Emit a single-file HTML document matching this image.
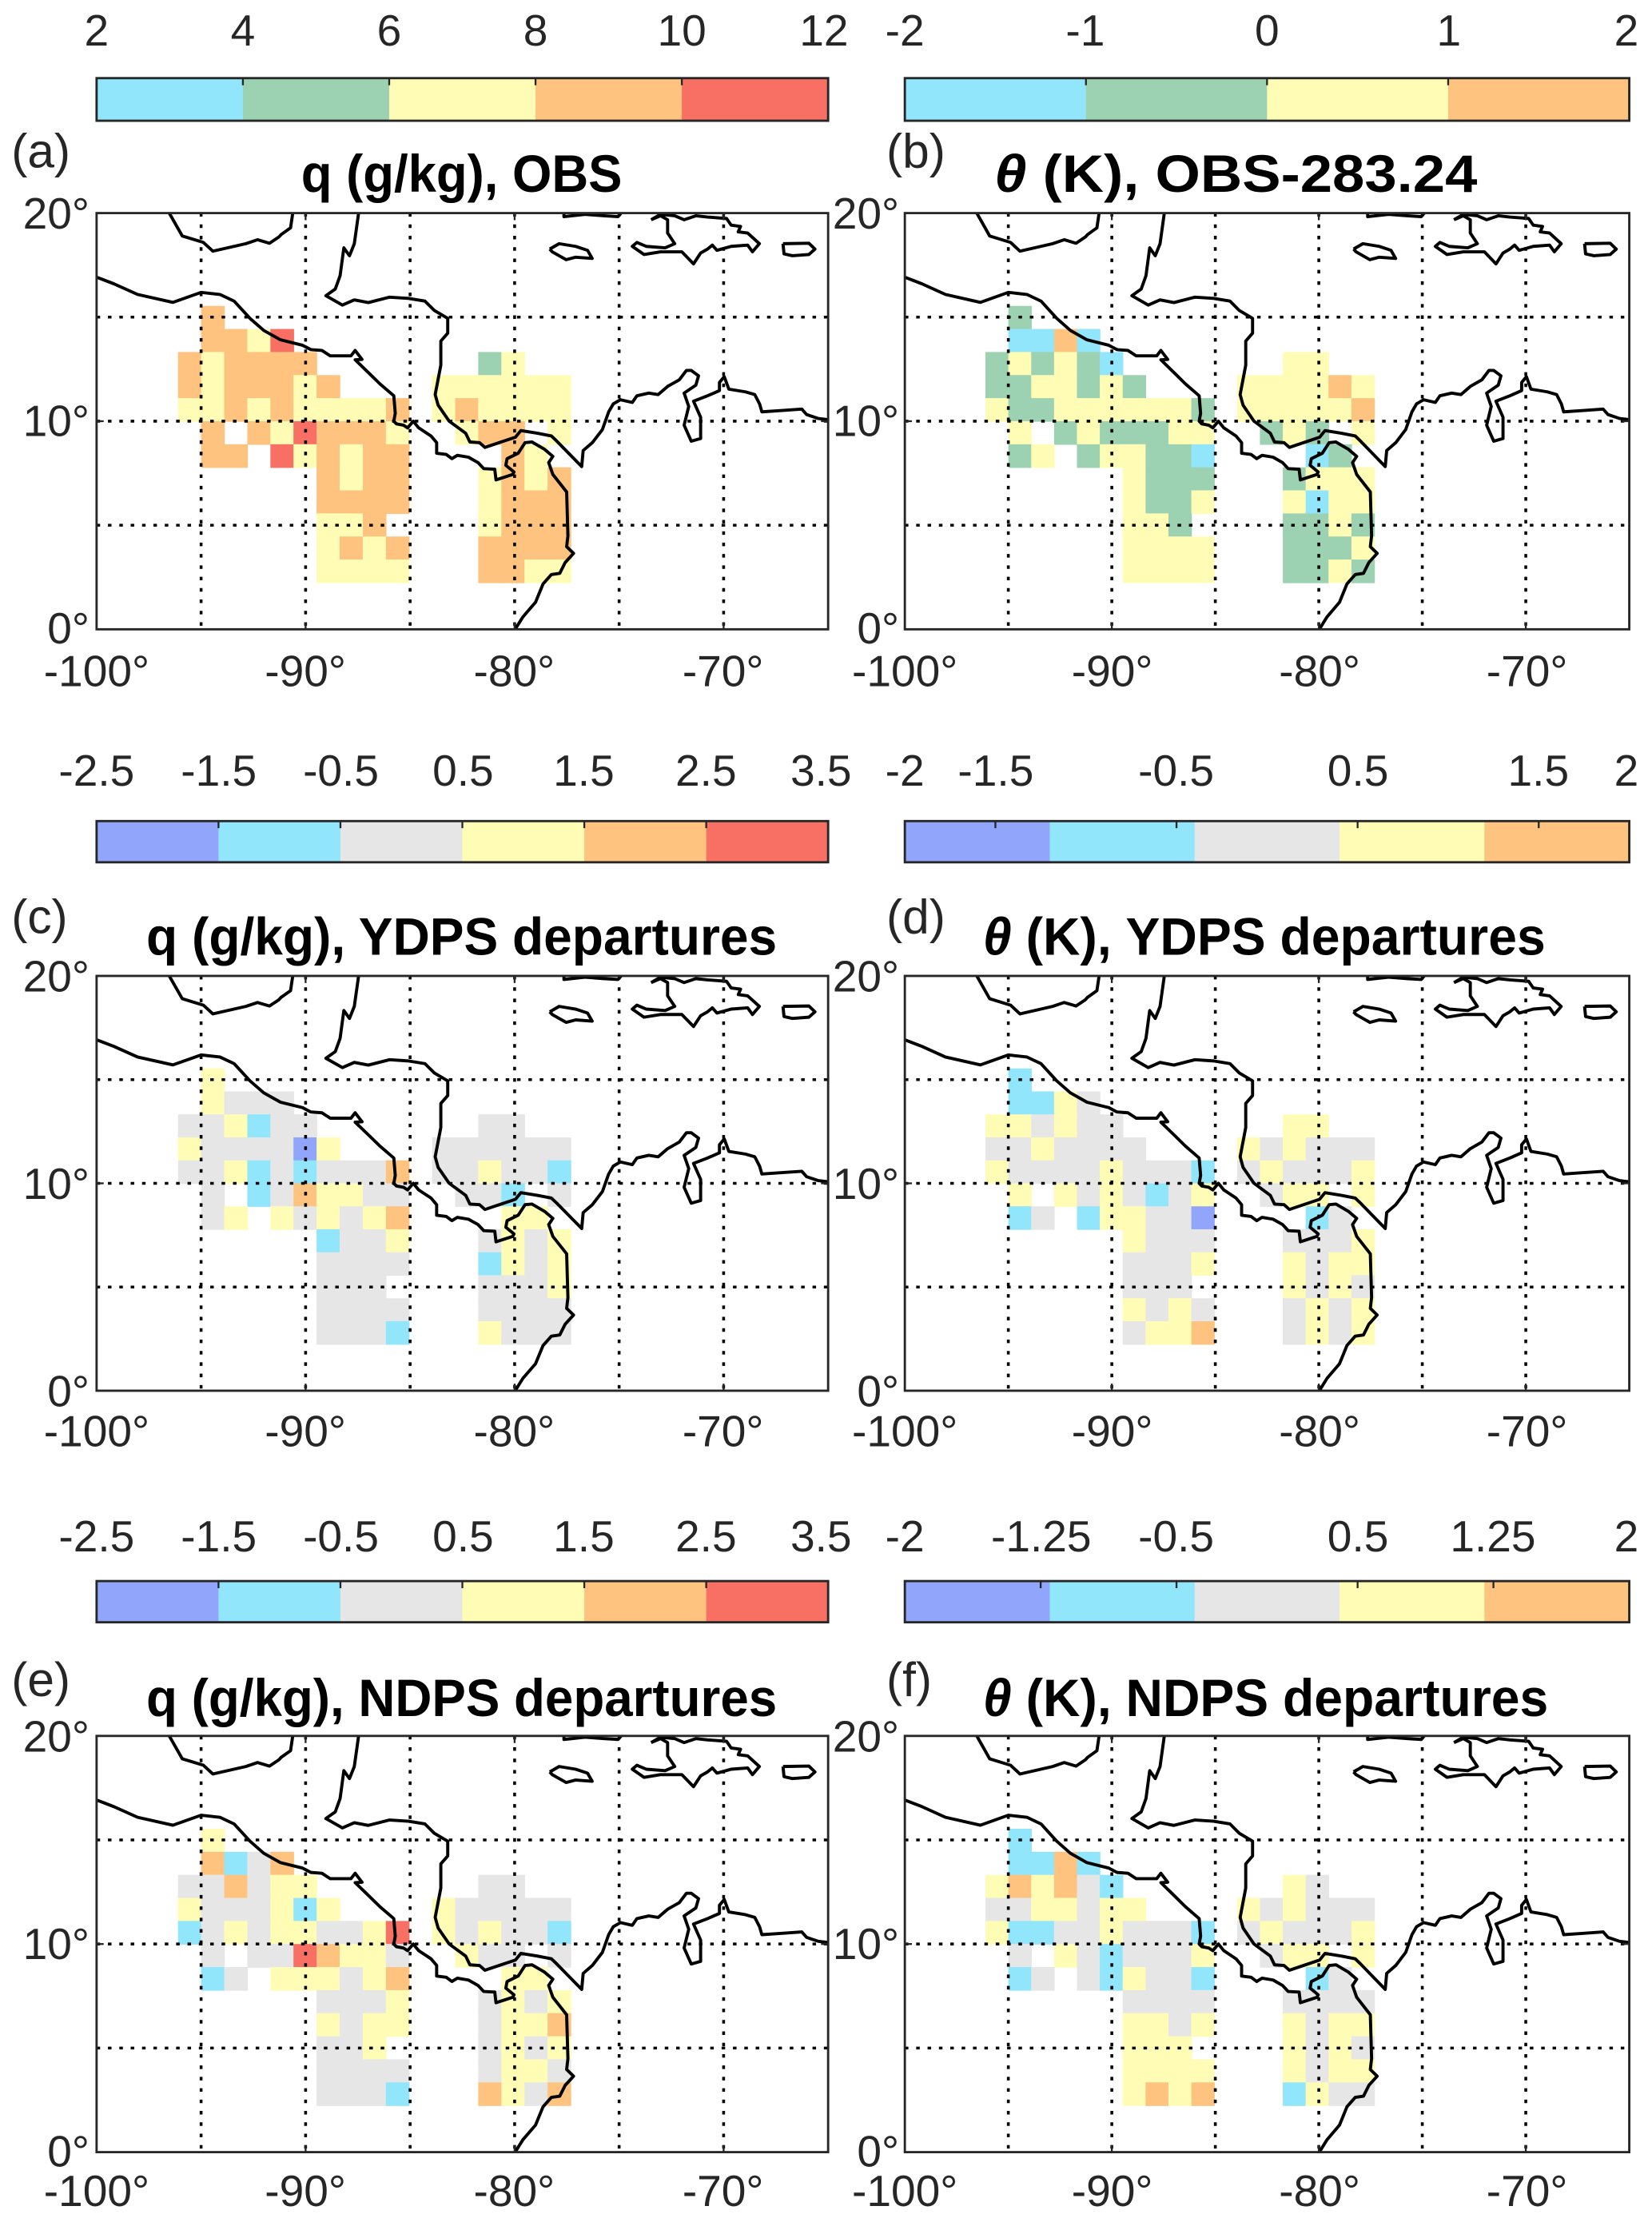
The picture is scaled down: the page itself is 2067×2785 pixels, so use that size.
<!DOCTYPE html>
<html><head><meta charset="utf-8">
<style>
html,body{margin:0;padding:0;background:#fff;}
svg{display:block;}
text{font-family:"Liberation Sans",Arial,sans-serif;fill:#262626;}
.t{font-size:31px;}
.ti{font-size:37px;font-weight:bold;fill:#000;}
.lt{font-size:34px;}
</style></head>
<body>
<svg id="s" width="2067" height="2785" viewBox="0 0 1163 1567" preserveAspectRatio="none" xmlns="http://www.w3.org/2000/svg">
<defs>
<clipPath id="ca"><rect x="68" y="150" width="515" height="293"/></clipPath>
<clipPath id="cb"><rect x="637" y="150" width="510" height="293"/></clipPath>
<clipPath id="cc"><rect x="68" y="687" width="515" height="292"/></clipPath>
<clipPath id="cd"><rect x="637" y="687" width="510" height="292"/></clipPath>
<clipPath id="ce"><rect x="68" y="1222" width="515" height="293"/></clipPath>
<clipPath id="cf"><rect x="637" y="1222" width="510" height="293"/></clipPath>
</defs>
<g id="gfx"></g>

<text class="t" text-anchor="middle" x="68" y="32">2</text>
<text class="t" text-anchor="middle" x="171" y="32">4</text>
<text class="t" text-anchor="middle" x="274" y="32">6</text>
<text class="t" text-anchor="middle" x="377" y="32">8</text>
<text class="t" text-anchor="middle" x="480" y="32">10</text>
<text class="t" text-anchor="middle" x="580" y="32">12</text>
<text class="t" text-anchor="middle" x="637" y="32">-2</text>
<text class="t" text-anchor="middle" x="764" y="32">-1</text>
<text class="t" text-anchor="middle" x="892" y="32">0</text>
<text class="t" text-anchor="middle" x="1020" y="32">1</text>
<text class="t" text-anchor="middle" x="1145" y="32">2</text>
<text class="t" text-anchor="middle" x="68" y="553">-2.5</text>
<text class="t" text-anchor="middle" x="154" y="553">-1.5</text>
<text class="t" text-anchor="middle" x="240" y="553">-0.5</text>
<text class="t" text-anchor="middle" x="326" y="553">0.5</text>
<text class="t" text-anchor="middle" x="411" y="553">1.5</text>
<text class="t" text-anchor="middle" x="497" y="553">2.5</text>
<text class="t" text-anchor="middle" x="578" y="553">3.5</text>
<text class="t" text-anchor="middle" x="637" y="553">-2</text>
<text class="t" text-anchor="middle" x="701" y="553">-1.5</text>
<text class="t" text-anchor="middle" x="828" y="553">-0.5</text>
<text class="t" text-anchor="middle" x="956" y="553">0.5</text>
<text class="t" text-anchor="middle" x="1083" y="553">1.5</text>
<text class="t" text-anchor="middle" x="1145" y="553">2</text>
<text class="t" text-anchor="middle" x="68" y="1092">-2.5</text>
<text class="t" text-anchor="middle" x="154" y="1092">-1.5</text>
<text class="t" text-anchor="middle" x="240" y="1092">-0.5</text>
<text class="t" text-anchor="middle" x="326" y="1092">0.5</text>
<text class="t" text-anchor="middle" x="411" y="1092">1.5</text>
<text class="t" text-anchor="middle" x="497" y="1092">2.5</text>
<text class="t" text-anchor="middle" x="578" y="1092">3.5</text>
<text class="t" text-anchor="middle" x="637" y="1092">-2</text>
<text class="t" text-anchor="middle" x="733" y="1092">-1.25</text>
<text class="t" text-anchor="middle" x="828" y="1092">-0.5</text>
<text class="t" text-anchor="middle" x="956" y="1092">0.5</text>
<text class="t" text-anchor="middle" x="1051" y="1092">1.25</text>
<text class="t" text-anchor="middle" x="1145" y="1092">2</text>

<text class="lt" x="8" y="118">(a)</text>
<text class="ti" x="212" y="135" textLength="226" lengthAdjust="spacingAndGlyphs">q (g/kg), OBS</text>
<text class="lt" x="624" y="118">(b)</text>
<text class="ti" x="700" y="135" textLength="340" lengthAdjust="spacingAndGlyphs"><tspan font-style="italic">θ</tspan> (K), OBS-283.24</text>
<text class="lt" x="8" y="657">(c)</text>
<text class="ti" x="103" y="672" textLength="444" lengthAdjust="spacingAndGlyphs">q (g/kg), YDPS departures</text>
<text class="lt" x="624" y="657">(d)</text>
<text class="ti" x="692" y="672" textLength="396" lengthAdjust="spacingAndGlyphs"><tspan font-style="italic">θ</tspan> (K), YDPS departures</text>
<text class="lt" x="8" y="1194">(e)</text>
<text class="ti" x="103" y="1208" textLength="444" lengthAdjust="spacingAndGlyphs">q (g/kg), NDPS departures</text>
<text class="lt" x="624" y="1194">(f)</text>
<text class="ti" x="692" y="1208" textLength="398" lengthAdjust="spacingAndGlyphs"><tspan font-style="italic">θ</tspan> (K), NDPS departures</text>

<text class="t" text-anchor="end" x="63" y="161">20°</text>
<text class="t" text-anchor="end" x="63" y="307">10°</text>
<text class="t" text-anchor="end" x="63" y="453">0°</text>
<text class="t" text-anchor="middle" x="68" y="483">-100°</text>
<text class="t" text-anchor="middle" x="215" y="483">-90°</text>
<text class="t" text-anchor="middle" x="362" y="483">-80°</text>
<text class="t" text-anchor="middle" x="509" y="483">-70°</text>
<text class="t" text-anchor="end" x="633" y="161">20°</text>
<text class="t" text-anchor="end" x="633" y="307">10°</text>
<text class="t" text-anchor="end" x="633" y="453">0°</text>
<text class="t" text-anchor="middle" x="637" y="483">-100°</text>
<text class="t" text-anchor="middle" x="783" y="483">-90°</text>
<text class="t" text-anchor="middle" x="929" y="483">-80°</text>
<text class="t" text-anchor="middle" x="1075" y="483">-70°</text>
<text class="t" text-anchor="end" x="63" y="698">20°</text>
<text class="t" text-anchor="end" x="63" y="844">10°</text>
<text class="t" text-anchor="end" x="63" y="990">0°</text>
<text class="t" text-anchor="middle" x="68" y="1018">-100°</text>
<text class="t" text-anchor="middle" x="215" y="1018">-90°</text>
<text class="t" text-anchor="middle" x="362" y="1018">-80°</text>
<text class="t" text-anchor="middle" x="509" y="1018">-70°</text>
<text class="t" text-anchor="end" x="633" y="698">20°</text>
<text class="t" text-anchor="end" x="633" y="844">10°</text>
<text class="t" text-anchor="end" x="633" y="990">0°</text>
<text class="t" text-anchor="middle" x="637" y="1018">-100°</text>
<text class="t" text-anchor="middle" x="783" y="1018">-90°</text>
<text class="t" text-anchor="middle" x="929" y="1018">-80°</text>
<text class="t" text-anchor="middle" x="1075" y="1018">-70°</text>
<text class="t" text-anchor="end" x="63" y="1233">20°</text>
<text class="t" text-anchor="end" x="63" y="1379">10°</text>
<text class="t" text-anchor="end" x="63" y="1525">0°</text>
<text class="t" text-anchor="middle" x="68" y="1553">-100°</text>
<text class="t" text-anchor="middle" x="215" y="1553">-90°</text>
<text class="t" text-anchor="middle" x="362" y="1553">-80°</text>
<text class="t" text-anchor="middle" x="509" y="1553">-70°</text>
<text class="t" text-anchor="end" x="633" y="1233">20°</text>
<text class="t" text-anchor="end" x="633" y="1379">10°</text>
<text class="t" text-anchor="end" x="633" y="1525">0°</text>
<text class="t" text-anchor="middle" x="637" y="1553">-100°</text>
<text class="t" text-anchor="middle" x="783" y="1553">-90°</text>
<text class="t" text-anchor="middle" x="929" y="1553">-80°</text>
<text class="t" text-anchor="middle" x="1075" y="1553">-70°</text>
</svg>
<script>
(function(){
var NS="http://www.w3.org/2000/svg";
var G=document.getElementById("gfx");
function el(n,a,p){var e=document.createElementNS(NS,n);for(var k in a)e.setAttribute(k,a[k]);(p||G).appendChild(e);return e;}
var COL={O:"#FEC37F",Y:"#FFFDB5",R:"#F86F64",G:"#9CD2B1",C:"#91E6FC",B:"#91A6FB",g:"#E6E6E6"};
var panels=[
{id:"ca",x0:68,x1:583,y0:150,y1:443,d:[
".O...............",".OOYR............","OYOOOO.......GY..","OYOOOYO....YYYYYY","YYOYOYYYYO.YOYYYY",
".O.OYROOOY..YOO.Y",".OO.RYOYOO....OY.","......OYOO...YOYO","......OOOO...YOOO","......YYO....YOOO","......YOYO...OOOO","......YYYY...OOYY"]},
{id:"cb",x0:637,x1:1147,y0:150,y1:443,d:[
".G...............",".CCOC............","GYGYGC.......YY..","GGYYGYG....YYYYOY","YGGYYYYYYG.YYYYYO",
".Y.GYGGGYY..GYG.Y",".GY.GYYGGC....CG.","......YGGG...GYYY","......YGGY...YCYY","......YYG....GGYG","......YYYY...GGGY","......YYYY...GGYG"]},
{id:"cc",x0:68,x1:583,y0:687,y1:979,d:[
".Y...............",".Yggg............","ggYCgg.......gg..","YggggBY....gggggg","ggYCgCgggO.ggYggC",
".g.CgOYYgg..ggC.g",".gY.YgYgYO....YY.","......CggY...gYgY","......gggg...CYgY","......ggg....gggY","......gggg...gggg","......gggC...Yggg"]},
{id:"cd",x0:637,x1:1147,y0:687,y1:979,d:[
".C...............",".CCYg............","YYgYgg.......YY..","ggYgggg....YgYggg","YggggYgggC.gYgggY",
".Y.YgYgCgY..gYY.Y",".Cg.CYYggB....Cg.","......Yggg...gggY","......gggY...YgYY","......ggg....YgYg","......YgYg...gYgY","......gYYO...gYgY"]},
{id:"ce",x0:68,x1:583,y0:1222,y1:1515,d:[
".Y...............",".OCgO............","ggOgYY.......gg..","YgggYCY....Yggggg","CgYgYYggYR.YgYggC",
".g.ggROYYg..Ygg.g",".Cg.YYYgYO....YY.","......gggY...gYgY","......YgYY...gYYO","......ggY....gYgY","......gggg...gYYg","......gggC...OYgO"]},
{id:"cf",x0:637,x1:1147,y0:1222,y1:1515,d:[
".C...............",".CCOC............","YOYOgC.......Yg..","ggYYgYY....YgYggg","YCCggYgggC.gYgggY",
".g.YgCgggY..gYY.Y",".Cg.gCYggC....Cg.","......gggg...gggg","......YYgY...YgYY","......YYY....YgYg","......YYYY...YgYY","......YOYO...CYgg"]}
];
var coast=[
[[-100,16.92],[-99.17,16.6],[-98.04,16.09],[-96.35,15.71],[-95,16.19],[-94.1,16.09],[-93.42,15.77],[-92.66,14.94],[-92,14.36],[-91.2,13.91],[-90.15,13.65],[-89.75,13.44],[-89.22,13.4],[-88.82,13.14],[-87.83,13.14],[-87.63,13.4],[-87.3,12.97],[-87.63,12.95],[-86.97,12.31],[-86.44,11.79],[-85.78,11.22],[-85.71,10.38],[-85.78,10],[-85.65,9.87],[-85.32,9.81],[-85.12,9.68],[-84.85,10],[-84.59,9.68],[-84,9.29],[-83.73,8.97],[-83.73,8.46],[-83.27,8.4],[-83,8.2],[-82.74,8.36],[-82.21,8.27],[-81.75,8.01],[-81.48,7.72],[-80.95,7.69],[-80.89,7.18],[-80.09,7.44],[-80.03,7.56],[-80.42,7.88],[-80.36,8.2],[-79.83,8.46],[-79.5,8.97],[-79.17,9],[-78.57,8.65],[-78.17,8.31],[-78.37,8.01],[-78.17,7.44],[-77.51,6.6],[-77.45,4.49],[-77.51,3.97],[-77.18,3.65],[-77.58,3.21],[-77.84,2.69],[-78.24,2.63],[-78.64,2.18],[-79.0,1.3],[-79.6,0.6],[-80.1,-0.2]],
[[-96.58,20.1],[-95.9,18.9],[-94.89,18.59],[-94.44,18.17],[-92.86,18.53],[-92.3,18.72],[-91.73,18.55],[-91.28,18.85],[-91.17,18.97],[-90.72,19.29],[-90.6,20.1]],
[[-87.45,20.1],[-87.67,18.53],[-87.9,17.95],[-88.17,18.33],[-88.35,16.99],[-88.58,16.35],[-89.03,16.03],[-88.24,15.58],[-87.67,15.83],[-87,15.7],[-85.98,15.96],[-85.08,15.9],[-84.29,15.77],[-83.84,15.32],[-83.2,14.94],[-83.2,14.23],[-83.53,13.85],[-83.53,12.69],[-83.8,11.28],[-83.66,10.77],[-83.13,10],[-82.34,9.42],[-82.14,9],[-81.68,8.97],[-81.42,8.74],[-79.96,9.23],[-79.7,9.55],[-78.9,9.42],[-78.24,9.29],[-77.98,9.04],[-76.79,7.82],[-76.72,8.59],[-76.28,8.97],[-75.8,9.6],[-75.5,10.45],[-75.28,10.83],[-74.94,11.03],[-74.37,10.9],[-74.15,11.22],[-73.58,11.35],[-73.13,11.28],[-72.68,11.67],[-72.12,11.99],[-71.78,12.44],[-71.55,12.44],[-71.2,12.18],[-71.33,11.73],[-71.89,11.35],[-71.67,10.71],[-71.89,9.81],[-71.55,9.04],[-71.1,9.17],[-71.1,10.19],[-71.44,10.96],[-70.77,11.22],[-70.2,11.47],[-70.2,11.86],[-69.97,12.14],[-69.75,11.54],[-68.96,11.41],[-68.51,11.28],[-68.28,10.83],[-68.17,10.45],[-67.27,10.51],[-66.26,10.58],[-66.03,10.32],[-65.47,10.13],[-64.9,10.06]],
[[-78.32,18.27],[-77.87,18.53],[-77.08,18.4],[-76.51,18.21],[-76.29,17.82],[-77.08,17.88],[-77.53,17.76],[-77.87,17.95],[-78.2,18.14],[-78.32,18.27]],
[[-77.64,20.1],[-77.64,19.83],[-76.63,19.94],[-75.73,19.87],[-75.05,19.83],[-74.82,20.1]],
[[-73.47,19.68],[-73.02,19.87],[-72.68,19.68],[-72.68,19.04],[-72.34,18.53],[-72.8,18.33],[-73.7,18.4],[-74.15,18.59],[-74.37,18.4],[-73.81,18.01],[-73.02,18.14],[-72,18.14],[-71.44,17.56],[-71.1,18.08],[-70.77,18.27],[-70.54,18.46],[-70.32,18.21],[-69.64,18.4],[-68.85,18.46],[-68.62,18.14],[-68.29,18.53],[-68.85,19.04],[-69.3,19.1],[-69.19,19.36],[-69.64,19.42],[-69.86,19.74],[-70.77,19.81],[-71.33,19.87],[-71.89,19.68],[-72.34,19.87],[-73.02,19.94],[-73.47,19.68]],
[[-67.16,18.53],[-65.92,18.55],[-65.63,18.27],[-65.92,18.01],[-66.71,17.95],[-67.11,18.04],[-67.16,18.53]]
];
panels.forEach(function(P){
  var W=P.x1-P.x0,H=P.y1-P.y0;
  function X(lon){return P.x0+(lon+100)/35*W;}
  function Y(lat){return P.y0+(20-lat)/20*H;}
  var g=el("g",{"clip-path":"url(#"+P.id+")"});
  var cw=1.105,ch=1.108;
  P.d.forEach(function(row,ri){
    var r=ri-5;
    for(var i=0;i<row.length;i++){
      var c=row[i]; if(c==="."||!COL[c])continue;
      var k=i-1;
      var lon0=-95+k*cw, lat0=10-r*ch;
      var x=X(lon0),y=Y(lat0),x2=X(lon0+cw),y2=Y(lat0-ch);
      el("rect",{x:x.toFixed(2),y:y.toFixed(2),width:(x2-x+0.4).toFixed(2),height:(y2-y+0.4).toFixed(2),fill:COL[c]},g);
    }
  });
  [-95,-90,-85,-80,-75,-70].forEach(function(l){el("line",{x1:X(l),x2:X(l),y1:P.y0,y2:P.y1,stroke:"#000","stroke-width":2,"stroke-dasharray":"2.5 5.5"},g);});
  [15,10,5].forEach(function(l){el("line",{x1:P.x0,x2:P.x1,y1:Y(l),y2:Y(l),stroke:"#000","stroke-width":2,"stroke-dasharray":"2.5 5.5"},g);});
  coast.forEach(function(pl){
    el("polyline",{points:pl.map(function(p){return X(p[0]).toFixed(2)+","+Y(p[1]).toFixed(2);}).join(" "),fill:"none",stroke:"#000","stroke-width":2.2,"stroke-linejoin":"round"},g);
  });
  el("rect",{x:P.x0,y:P.y0,width:W,height:H,fill:"none",stroke:"#262626","stroke-width":1.6});
  [-90,-80,-70].forEach(function(l){el("line",{x1:X(l),x2:X(l),y1:P.y1,y2:P.y1-5,stroke:"#262626","stroke-width":1.3});el("line",{x1:X(l),x2:X(l),y1:P.y0,y2:P.y0+5,stroke:"#262626","stroke-width":1.3});});
  [10].forEach(function(l){el("line",{x1:P.x0,x2:P.x0+5,y1:Y(l),y2:Y(l),stroke:"#262626","stroke-width":1.3});el("line",{x1:P.x1,x2:P.x1-5,y1:Y(l),y2:Y(l),stroke:"#262626","stroke-width":1.3});});
});
function cbar(x0,x1,y0,y1,cols,ticks,vmin,vmax){
  var n=cols.length,w=(x1-x0)/n;
  cols.forEach(function(c,i){el("rect",{x:x0+i*w,y:y0,width:w+0.5,height:y1-y0,fill:COL[c]});});
  el("rect",{x:x0,y:y0,width:x1-x0,height:y1-y0,fill:"none",stroke:"#262626","stroke-width":1.6});
  ticks.forEach(function(v){var x=x0+(v-vmin)/(vmax-vmin)*(x1-x0);el("line",{x1:x,x2:x,y1:y0,y2:y0+5,stroke:"#262626","stroke-width":1.3});});
}
cbar(68,583,55,85,["C","G","Y","O","R"],[4,6,8,10],2,12);
cbar(637,1147,55,85,["C","G","Y","O"],[-1,0,1],-2,2);
cbar(68,583,578,607,["B","C","g","Y","O","R"],[-1.5,-0.5,0.5,1.5,2.5],-2.5,3.5);
cbar(637,1147,578,607,["B","C","g","Y","O"],[-1.5,-0.5,0.5,1.5],-2,2);
cbar(68,583,1113,1142,["B","C","g","Y","O","R"],[-1.5,-0.5,0.5,1.5,2.5],-2.5,3.5);
cbar(637,1147,1113,1142,["B","C","g","Y","O"],[-1.25,-0.5,0.5,1.25],-2,2);
})();
</script>
</body></html>
